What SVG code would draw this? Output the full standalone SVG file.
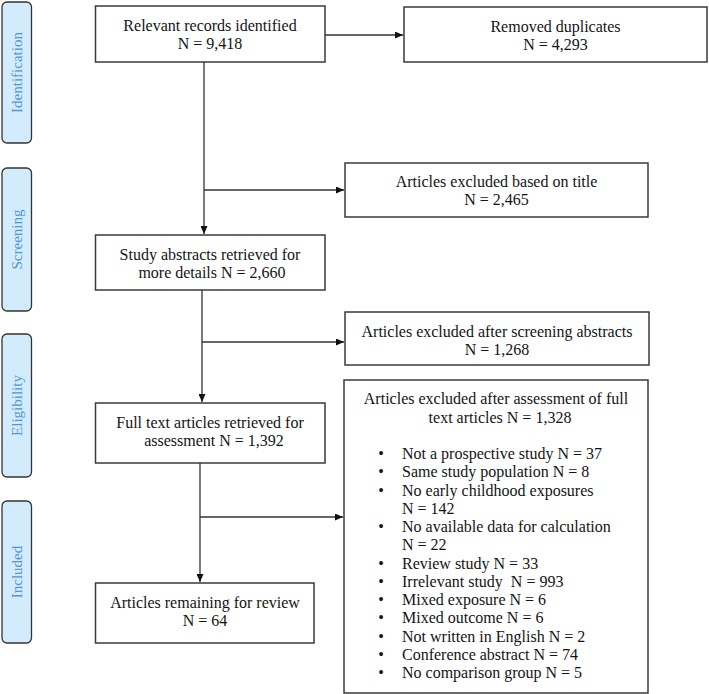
<svg xmlns="http://www.w3.org/2000/svg" width="709" height="694" viewBox="0 0 709 694">
<defs>
<style>
.box{fill:#fff;stroke:#3a3a3a;stroke-width:1.5}
.lab{fill:#d3ecfd;stroke:#333;stroke-width:1.3}
.t{font-family:"Liberation Serif","Times New Roman",serif;font-size:16px;fill:#141414}
.c{text-anchor:middle}
.lt{font-family:"Liberation Serif","Times New Roman",serif;font-size:15px;fill:#4f97d6;text-anchor:middle;dominant-baseline:central}
.ln{fill:none;stroke:#333;stroke-width:1.3}
</style>
<marker id="ah" viewBox="0 0 10 10" refX="10" refY="5" markerWidth="8" markerHeight="7" orient="auto" markerUnits="userSpaceOnUse" preserveAspectRatio="none">
<path d="M0,0 L10,5 L0,10 z" fill="#111"/>
</marker>
</defs>
<rect width="709" height="694" fill="#fff"/>

<g id="stage-identification">
<rect class="lab" x="2" y="2" width="29.5" height="141" rx="5"/>
<text class="lt" transform="translate(17,72.5) rotate(-90)">Identification</text>
</g>
<g id="stage-screening">
<rect class="lab" x="2" y="168" width="29.5" height="143" rx="5"/>
<text class="lt" transform="translate(17,239.5) rotate(-90)">Screening</text>
</g>
<g id="stage-eligibility">
<rect class="lab" x="2" y="334" width="29.5" height="143" rx="5"/>
<text class="lt" transform="translate(17,405.5) rotate(-90)">Eligibility</text>
</g>
<g id="stage-included">
<rect class="lab" x="2" y="501" width="29.5" height="142" rx="5"/>
<text class="lt" transform="translate(17,572) rotate(-90)">Included</text>
</g>

<g id="connectors">
<line class="ln" x1="325" y1="35" x2="403" y2="35" marker-end="url(#ah)"/>
<line class="ln" x1="204" y1="62" x2="204" y2="234" marker-end="url(#ah)"/>
<line class="ln" x1="204" y1="190" x2="344" y2="190" marker-end="url(#ah)"/>
<line class="ln" x1="202" y1="290" x2="202" y2="402" marker-end="url(#ah)"/>
<line class="ln" x1="202" y1="342" x2="344" y2="342" marker-end="url(#ah)"/>
<line class="ln" x1="200" y1="463" x2="200" y2="582" marker-end="url(#ah)"/>
<line class="ln" x1="200" y1="517" x2="343" y2="517" marker-end="url(#ah)"/>
</g>

<g id="records-identified">
<rect class="box" x="95.5" y="6" width="229.5" height="56"/>
<text class="t c" x="210" y="31">Relevant records identified</text>
<text class="t c" x="210" y="49">N = 9,418</text>
</g>
<g id="removed-duplicates">
<rect class="box" x="404" y="7" width="303" height="55"/>
<text class="t c" x="555.5" y="32">Removed duplicates</text>
<text class="t c" x="555.5" y="50">N = 4,293</text>
</g>
<g id="excluded-title">
<rect class="box" x="345" y="163" width="303" height="54"/>
<text class="t c" x="496.5" y="187">Articles excluded based on title</text>
<text class="t c" x="496.5" y="205">N = 2,465</text>
</g>
<g id="abstracts-retrieved">
<rect class="box" x="95.5" y="235" width="229.5" height="55"/>
<text class="t c" x="210" y="260">Study abstracts retrieved for</text>
<text class="t c" x="212" y="278">more details N = 2,660</text>
</g>
<g id="excluded-abstracts">
<rect class="box" x="345" y="312" width="304" height="53"/>
<text class="t c" x="497" y="337">Articles excluded after screening abstracts</text>
<text class="t c" x="497" y="355">N = 1,268</text>
</g>
<g id="fulltext-retrieved">
<rect class="box" x="95.5" y="403" width="229.5" height="60"/>
<text class="t c" x="210" y="428">Full text articles retrieved for</text>
<text class="t c" x="214" y="446">assessment N = 1,392</text>
</g>
<g id="excluded-fulltext">
<rect class="box" x="344" y="380" width="304" height="313"/>
<text class="t c" x="496" y="404">Articles excluded after assessment of full</text>
<text class="t c" x="500" y="423">text articles N = 1,328</text>
<g class="t" style="white-space:pre">
<text x="381" y="459" text-anchor="middle">•</text><text x="402" y="459">Not a prospective study N = 37</text>
<text x="381" y="477" text-anchor="middle">•</text><text x="402" y="477">Same study population N = 8</text>
<text x="381" y="495.5" text-anchor="middle">•</text><text x="402" y="495.5">No early childhood exposures</text>
<text x="402" y="513.5">N = 142</text>
<text x="381" y="532" text-anchor="middle">•</text><text x="402" y="532">No available data for calculation</text>
<text x="402" y="550">N = 22</text>
<text x="381" y="568.5" text-anchor="middle">•</text><text x="402" y="568.5">Review study N = 33</text>
<text x="381" y="586.5" text-anchor="middle">•</text><text x="402" y="586.5" xml:space="preserve">Irrelevant study  N = 993</text>
<text x="381" y="605" text-anchor="middle">•</text><text x="402" y="605">Mixed exposure N = 6</text>
<text x="381" y="623" text-anchor="middle">•</text><text x="402" y="623">Mixed outcome N = 6</text>
<text x="381" y="641.5" text-anchor="middle">•</text><text x="402" y="641.5">Not written in English N = 2</text>
<text x="381" y="659.5" text-anchor="middle">•</text><text x="402" y="659.5">Conference abstract N = 74</text>
<text x="381" y="678" text-anchor="middle">•</text><text x="402" y="678">No comparison group N = 5</text>
</g>
</g>
<g id="remaining">
<rect class="box" x="95.5" y="583" width="218.5" height="60"/>
<text class="t c" x="205" y="608">Articles remaining for review</text>
<text class="t c" x="205" y="626">N = 64</text>
</g>
</svg>
